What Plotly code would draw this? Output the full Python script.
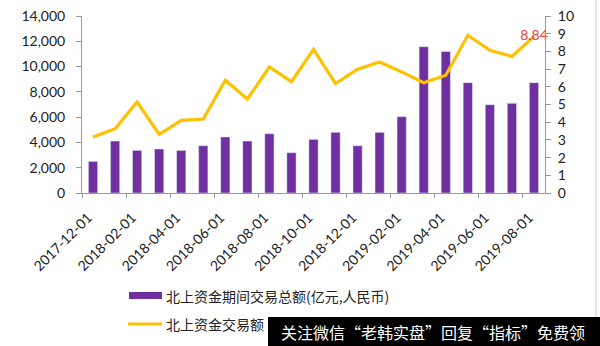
import plotly.graph_objects as go

months = ["2017-12-01", "2018-01-01", "2018-02-01", "2018-03-01", "2018-04-01", "2018-05-01",
          "2018-06-01", "2018-07-01", "2018-08-01", "2018-09-01", "2018-10-01", "2018-11-01",
          "2018-12-01", "2019-01-01", "2019-02-01", "2019-03-01", "2019-04-01", "2019-05-01",
          "2019-06-01", "2019-07-01", "2019-08-01"]
turnover = [2500, 4110, 3370, 3480, 3370, 3740, 4430, 4110, 4690, 3190, 4240,
            4800, 3740, 4800, 6040, 11570, 11200, 8730, 6990, 7090, 8730]
ratio = [3.16, 3.63, 5.14, 3.31, 4.10, 4.18, 6.37, 5.31, 7.12, 6.29, 8.12,
         6.18, 6.99, 7.40, 6.84, 6.23, 6.65, 8.91, 8.06, 7.72, 8.84]
bar_name = "北上资金期间交易总额(亿元,人民币)"
line_name_visible = "北上资金交易额"
watermark = "关注微信“老韩实盘”回复“指标”免费领"

purple = "#7030A0"
gold = "#FFC000"
font = "Lato, 'Open Sans', sans-serif"
cjk = "'Noto Sans CJK SC', sans-serif"

fig = go.Figure()
fig.add_trace(go.Bar(x=months, y=turnover, name=bar_name, marker_color=purple,
                     width=0.42, showlegend=False))
labels = [""] * (len(ratio) - 1) + [f"{ratio[-1]:.2f}"]
fig.add_trace(go.Scatter(x=months, y=ratio, name=line_name_visible, yaxis="y2", mode="lines+text",
                         line=dict(color=gold, width=3.2), text=labels,
                         textposition="middle center",
                         textfont=dict(color="#E8403A", size=14, family=font),
                         showlegend=False, cliponaxis=False))

def px(x):
    return (x - 82) / 463

def py(y):
    return (193 - y) / 177

fig.update_layout(
    width=600, height=346,
    margin=dict(l=82, r=55, t=16, b=153, autoexpand=False),
    paper_bgcolor="white", plot_bgcolor="white",
    font=dict(family=font, size=14, color="#222"),
    xaxis=dict(type="category", range=[-0.5, 20.5], automargin=False,
               tickangle=-45, dtick=2, tickson="boundaries",
               ticks="outside", ticklen=4, tickcolor="#999", showline=True,
               linecolor="#999", linewidth=1, showgrid=False,
               ticklabelstandoff=10, ticklabelshift=-5,
               tickfont=dict(size=14, family=font)),
    yaxis=dict(range=[0, 14000], dtick=2000, tickformat=",d", showgrid=False, automargin=False,
               showline=True, linecolor="#999", ticks="outside", ticklen=5,
               tickcolor="#999", zeroline=False, ticklabelstandoff=8, tickfont=dict(size=14)),
    yaxis2=dict(range=[0, 10], dtick=1, overlaying="y", side="right", showgrid=False, automargin=False,
                showline=True, linecolor="#999", ticks="outside", ticklen=5,
                tickcolor="#999", zeroline=False, ticklabelstandoff=4, tickfont=dict(size=14)),
    shapes=[
        dict(type="rect", xref="paper", yref="paper", x0=px(129), x1=px(162),
             y0=py(299), y1=py(292), fillcolor=purple, line_width=0),
        dict(type="line", xref="paper", yref="paper", x0=px(128), x1=px(162),
             y0=py(324), y1=py(324), line=dict(color=gold, width=3)),
        dict(type="rect", xref="paper", yref="paper", x0=px(268), x1=px(600),
             y0=py(346), y1=py(317), fillcolor="black", line_width=0),
        dict(type="line", xref="paper", yref="paper", x0=px(596), x1=px(596),
             y0=py(317), y1=py(0), line=dict(color="#ccc", width=1)),
    ],
    annotations=[
        dict(text=bar_name, xref="paper", yref="paper", x=px(164), y=py(296),
             xanchor="left", yanchor="middle", showarrow=False,
             font=dict(family=cjk, size=14, color="#222")),
        dict(text=line_name_visible, xref="paper", yref="paper", x=px(164), y=py(324),
             xanchor="left", yanchor="middle", showarrow=False,
             font=dict(family=cjk, size=14, color="#222")),
        dict(text=watermark, xref="paper", yref="paper", x=px(433), y=py(332),
             xanchor="center", yanchor="middle", showarrow=False,
             font=dict(family=cjk, size=16, color="white")),
    ],
)

fig.write_html("out.html")
